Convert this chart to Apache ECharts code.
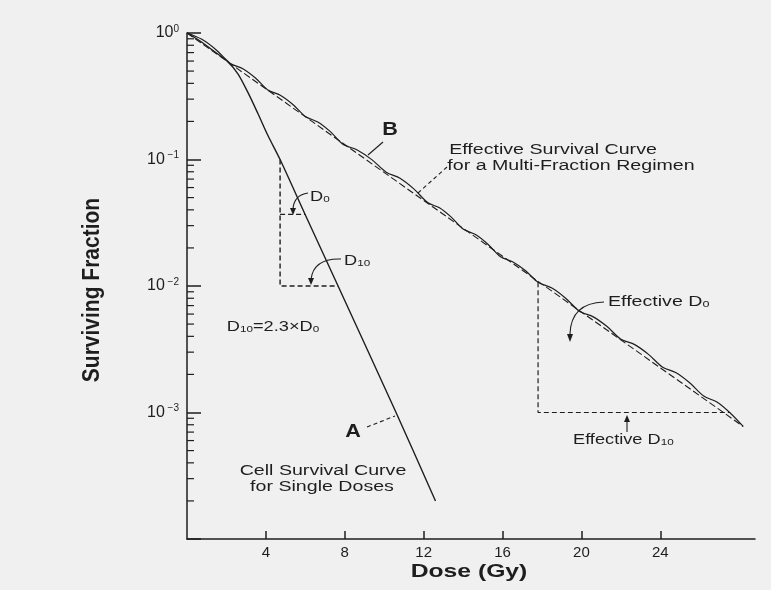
<!DOCTYPE html>
<html>
<head>
<meta charset="utf-8">
<script src="https://cdn.jsdelivr.net/npm/echarts@6/dist/echarts.min.js"></script>
<style>
  html, body { margin: 0; padding: 0; background: #f0f0f0; }
  #chart { width: 771px; height: 590px; }
</style>
</head>
<body>
<div id="chart"></div>
<script>
// Curve A: cell survival for single doses (dose in Gy, surviving fraction)
const singleDose = [0, 0.66, 1.42, 2.08, 2.59, 3.10, 3.60, 4.11, 4.72, 5.99, 7.66, 10.6, 12.6];
const singleSurvival = [1, 0.865, 0.708, 0.590, 0.474, 0.336, 0.230, 0.154, 0.1, 0.0368, 0.01, 0.001, 0.0002];

// Curve B: scalloped survival under a multi-fraction regimen
const multiDose = [0, 0.73, 1.47, 2.2, 2.83, 3.47, 4.1, 4.73, 5.37, 6.0, 6.63, 7.27, 7.9,
  8.63, 9.37, 10.1, 10.8, 11.5, 12.2, 12.8, 13.4, 14.0, 14.63, 15.27, 15.9, 16.53, 17.17, 17.8,
  18.5, 19.2, 19.9, 20.6, 21.3, 22.0, 22.7, 23.4, 24.1, 24.8, 25.5, 26.2, 26.87, 27.53, 28.2];
const multiSurvival = [1, 0.895, 0.738, 0.575, 0.522, 0.441, 0.355, 0.322, 0.272, 0.219, 0.198, 0.166, 0.132,
  0.119, 0.0998, 0.0794, 0.0711, 0.0586, 0.0457, 0.0415, 0.0350, 0.0282, 0.0255, 0.0213, 0.0170, 0.0155, 0.0132, 0.0107,
  0.00964, 0.00801, 0.00631, 0.00570, 0.00478, 0.00380, 0.00344, 0.00288, 0.00229, 0.00206, 0.00171, 0.00135, 0.00121, 0.000995, 0.000776];

// Effective (straight) survival curve for the multi-fraction regimen
const effectiveDose = [0, 28.2];
const effectiveSurvival = [1, 0.000776];

// D0 / D10 construction on curve A
const d10Dose = [4.72, 4.72, 7.66];
const d10Survival = [0.1, 0.01, 0.01];
const d0Dose = [4.72, 5.99];
const d0Survival = [0.0368, 0.0368];

// Effective D10 construction on curve B
const effD10Dose = [17.8, 17.8, 27.5];
const effD10Survival = [0.0107, 0.001, 0.001];

// Axis ticks and labels
const doseTicks = [4, 8, 12, 16, 20, 24];
const decadeValues = [1, 0.1, 0.01, 0.001];
const decadeExponents = ['0', '\u22121', '\u22122', '\u22123'];
const minorTickValues = [
  0.9, 0.8, 0.7, 0.6, 0.5, 0.4, 0.3, 0.2,
  0.09, 0.08, 0.07, 0.06, 0.05, 0.04, 0.03, 0.02,
  0.009, 0.008, 0.007, 0.006, 0.005, 0.004, 0.003, 0.002,
  0.0009, 0.0008, 0.0007, 0.0006, 0.0005, 0.0004, 0.0003, 0.0002
];

const INK = '#1e1e1e';
const FONT = 'Liberation Sans, Arial, Helvetica, sans-serif';

function pairs(xs, ys) { return xs.map((x, i) => [x, ys[i]]); }

const chart = echarts.init(document.getElementById('chart'), null, { renderer: 'canvas' });

function txt(x, y, text, opts) {
  opts = opts || {};
  return {
    type: 'text', x: x, y: y, z: 10,
    scaleX: opts.scaleX || 1.4, scaleY: opts.scaleY || 1,
    rotation: opts.rotation || 0,
    style: {
      text: text,
      fontSize: opts.fontSize || 14,
      fontWeight: opts.bold ? 'bold' : 'normal',
      fontFamily: FONT,
      fill: INK,
      align: opts.align || 'center',
      verticalAlign: 'middle',
      rich: {
        n: { fontSize: opts.fontSize || 14, fontFamily: FONT, fill: INK, color: INK },
        sub: { fontSize: 9, fontFamily: FONT, fill: INK, color: INK, verticalAlign: 'bottom', padding: [6, 0, 0, 0] }
      }
    }
  };
}
function seg(x1, y1, x2, y2, dashed) {
  return { type: 'line', z: 10, shape: { x1, y1, x2, y2 },
    style: { stroke: INK, lineWidth: 1.1, lineDash: dashed ? [4, 3] : null } };
}
function arc(x1, y1, cx, cy, x2, y2) {
  return { type: 'bezierCurve', z: 10, shape: { x1, y1, cpx1: cx, cpy1: cy, x2, y2 },
    style: { stroke: INK, fill: null, lineWidth: 1.1 } };
}
function head(points) {
  return { type: 'polygon', z: 10, shape: { points }, style: { fill: INK } };
}

const dashedGuide = { color: INK, width: 1.4, type: [5, 3] };

chart.setOption({
  animation: false,
  backgroundColor: '#f0f0f0',
  grid: { left: 187, right: 16, top: 33, bottom: 51 },
  xAxis: {
    type: 'value', min: 0, max: 28.8,
    axisLine: { onZero: false, lineStyle: { color: INK, width: 1.5 } },
    axisTick: { inside: true, length: 8, customValues: doseTicks, lineStyle: { color: INK, width: 1.5 } },
    axisLabel: { customValues: doseTicks, fontSize: 15, fontFamily: FONT, color: INK, margin: 6 },
    splitLine: { show: false }
  },
  yAxis: {
    type: 'log', logBase: 10, min: 0.0001, max: 1,
    axisLine: { show: true, onZero: false, lineStyle: { color: INK, width: 1.5 } },
    axisTick: { show: true, inside: true, length: 14, lineStyle: { color: INK, width: 1.5 } },
    axisLabel: {
      margin: 8,
      formatter: function (v) {
        const i = decadeValues.findIndex(d => Math.abs(Math.log10(d) - Math.log10(v)) < 0.01);
        if (i < 0) return '';
        return '{b|10}{s|' + (i ? ' ' : '') + decadeExponents[i] + '}';
      },
      rich: {
        b: { fontSize: 16, fontFamily: FONT, color: INK, lineHeight: 18 },
        s: { fontSize: 10, fontFamily: FONT, color: INK, verticalAlign: 'top', lineHeight: 10 }
      }
    },
    splitLine: { show: false }
  },
  series: [
    {
      name: 'Cell Survival Curve for Single Doses', type: 'line',
      data: pairs(singleDose, singleSurvival), showSymbol: false, smooth: 0.3,
      lineStyle: { color: INK, width: 1.4 }
    },
    {
      name: 'Multi-Fraction Regimen', type: 'line',
      data: pairs(multiDose, multiSurvival), showSymbol: false, smooth: 0.3,
      lineStyle: { color: INK, width: 1.2 }
    },
    {
      name: 'Effective Survival Curve', type: 'line',
      data: pairs(effectiveDose, effectiveSurvival), showSymbol: false,
      lineStyle: { color: INK, width: 1.1, type: [7, 3] }
    },
    { type: 'line', data: pairs(d10Dose, d10Survival), showSymbol: false, lineStyle: dashedGuide },
    { type: 'line', data: pairs(d0Dose, d0Survival), showSymbol: false, lineStyle: dashedGuide },
    { type: 'line', data: pairs(effD10Dose, effD10Survival), showSymbol: false,
      lineStyle: { color: INK, width: 1.2, type: [5, 3] } },
    {
      // Minor logarithmic ticks on the survival axis
      type: 'custom', silent: true, clip: false,
      data: minorTickValues.map(v => [0, v]),
      encode: { x: 0, y: 1 },
      renderItem: function (params, api) {
        const p = api.coord([0, api.value(1)]);
        return { type: 'line', shape: { x1: p[0], y1: p[1], x2: p[0] + 7, y2: p[1] },
          style: { stroke: INK, lineWidth: 1.2 } };
      }
    }
  ],
  graphic: [
    // Axis titles
    txt(93, 290, 'Surviving Fraction', { fontSize: 20, bold: true, rotation: Math.PI / 2, scaleX: 1.05, scaleY: 1.15 }),
    txt(469, 572, 'Dose (Gy)', { fontSize: 19, bold: true, scaleX: 1.3 }),

    // Curve B annotation
    txt(390, 130, 'B', { fontSize: 18, bold: true, scaleX: 1.2 }),
    seg(383, 142, 368, 155, false),
    txt(553, 150, 'Effective Survival Curve'),
    txt(571, 166, 'for a Multi-Fraction Regimen'),
    seg(447, 167, 418, 193, true),

    // Curve A annotation
    txt(353, 432, 'A', { fontSize: 18, bold: true, scaleX: 1.2 }),
    seg(367, 427, 395, 416, true),
    txt(323, 471, 'Cell Survival Curve'),
    txt(322, 487, 'for Single Doses'),

    // D0 and D10 labels for curve A
    txt(310, 197, '{n|D}{sub|0}', { align: 'left', scaleX: 1.3 }),
    arc(308, 193, 294, 195, 293, 209),
    head([[290, 208], [296, 208], [293, 215]]),
    txt(344, 261, '{n|D}{sub|10}', { align: 'left', scaleX: 1.3 }),
    arc(341, 259, 314, 258, 311, 279),
    head([[308, 278], [314, 278], [311, 285]]),
    txt(273, 327, '{n|D}{sub|10}{n|=2.3\u00d7D}{sub|0}', { scaleX: 1.3 }),

    // Effective D0 / D10 labels for curve B
    txt(608, 302, '{n|Effective D}{sub|0}', { align: 'left' }),
    arc(604, 302, 571, 303, 570, 334),
    head([[567, 334], [573, 334], [570, 342]]),
    txt(573, 440, '{n|Effective D}{sub|10}', { align: 'left', scaleX: 1.3 }),
    seg(627, 432, 627, 420, false),
    head([[624, 422], [630, 422], [627, 415]])
  ]
});
</script>
</body>
</html>
